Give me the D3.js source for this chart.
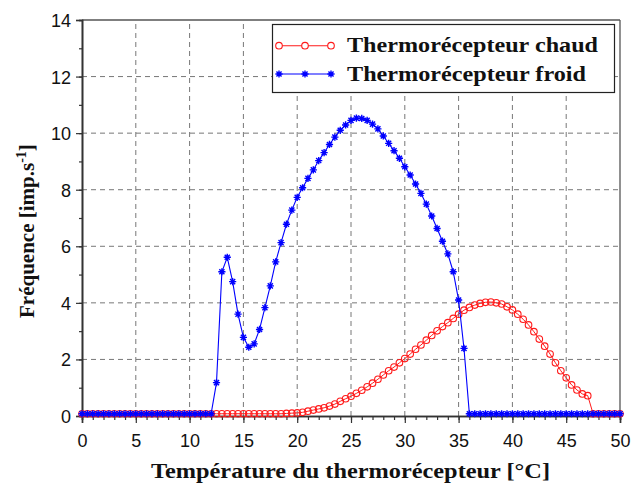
<!DOCTYPE html>
<html><head><meta charset="utf-8">
<script src="https://cdn.jsdelivr.net/npm/d3@7"></script>
<style>body{margin:0;background:#fff}svg{display:block}</style>
</head><body>
<svg id="c" width="632" height="487"></svg>
<script>
const temperatures = [0,0.5,1,1.5,2,2.5,3,3.5,4,4.5,5,5.5,6,6.5,7,7.5,8,8.5,9,9.5,10,10.5,11,11.5,12,12.5,13,13.5,14,14.5,15,15.5,16,16.5,17,17.5,18,18.5,19,19.5,20,20.5,21,21.5,22,22.5,23,23.5,24,24.5,25,25.5,26,26.5,27,27.5,28,28.5,29,29.5,30,30.5,31,31.5,32,32.5,33,33.5,34,34.5,35,35.5,36,36.5,37,37.5,38,38.5,39,39.5,40,40.5,41,41.5,42,42.5,43,43.5,44,44.5,45,45.5,46,46.5,47,47.5,48,48.5,49,49.5,50];
const chaud = [0.08,0.08,0.08,0.08,0.08,0.08,0.08,0.08,0.08,0.08,0.08,0.08,0.08,0.08,0.08,0.08,0.08,0.08,0.08,0.08,0.08,0.08,0.08,0.08,0.08,0.08,0.08,0.08,0.08,0.08,0.08,0.08,0.08,0.08,0.08,0.08,0.08,
 0.08,0.09,0.1,0.11,0.13,0.17,0.21,0.25,0.29,0.35,0.42,0.52,0.61,0.7,0.8,0.91,1.03,1.16,1.3,1.45,1.6,1.73,1.88,2.03,2.19,2.36,2.51,2.68,2.85,3.01,3.16,3.3,3.45,3.6,3.74,3.84,3.92,3.98,4.02,4.03,4.0,3.96,3.86,3.75,3.6,3.42,3.22,2.98,2.72,2.47,2.19,1.88,1.6,1.35,1.1,0.92,0.78,0.72,
 0.08,0.08,0.08,0.08,0.08,0.08];
const froid = [0.08,0.08,0.08,0.08,0.08,0.08,0.08,0.08,0.08,0.08,0.08,0.08,0.08,0.08,0.08,0.08,0.08,0.08,0.08,0.08,0.08,0.08,0.08,0.08,0.08,
 1.18,5.1,5.61,4.75,3.6,2.78,2.43,2.55,3.06,3.83,4.6,5.45,6.13,6.78,7.28,7.73,8.07,8.4,8.7,9.03,9.31,9.6,9.86,10.1,10.29,10.45,10.53,10.52,10.45,10.32,10.15,9.9,9.64,9.38,9.11,8.81,8.52,8.2,7.87,7.49,7.07,6.63,6.18,5.73,5.1,4.1,2.39,
 0.08,0.08,0.08,0.08,0.08,0.08,0.08,0.08,0.08,0.08,0.08,0.08,0.08,0.08,0.08,0.08,0.08,0.08,0.08,0.08,0.08,0.08,0.08,0.08,0.08,0.08,0.08,0.08,0.08];
const xTicks = [0,5,10,15,20,25,30,35,40,45,50];
const yTicks = [0,2,4,6,8,10,12,14];
const xMinor = [0,1,2,3,4,5,6,7,8,9,10,11,12,13,14,15,16,17,18,19,20,21,22,23,24,25,26,27,28,29,30,31,32,33,34,35,36,37,38,39,40,41,42,43,44,45,46,47,48,49,50];
const yMinor = [0,1,2,3,4,5,6,7,8,9,10,11,12,13,14];
const seriesNames = ["Thermorécepteur chaud","Thermorécepteur froid"];
const xTitle = "Température du thermorécepteur [°C]";

const L=82,R=620,T=20,B=416;
const svg=d3.select("#c");
const x=d3.scaleLinear().domain([0,50]).range([L,R]);
const y=d3.scaleLinear().domain([0,14]).range([B,T]);

// grid
const grid=svg.append("g").attr("stroke","#777").attr("stroke-width",1).attr("stroke-dasharray","5,4");
xTicks.filter(d=>d>0&&d<50).forEach(d=>grid.append("line").attr("x1",x(d)).attr("x2",x(d)).attr("y1",B).attr("y2",T));
yTicks.filter(d=>d>0&&d<14).forEach(d=>grid.append("line").attr("x1",L).attr("x2",R).attr("y1",y(d)).attr("y2",y(d)));

// frame top/right
svg.append("line").attr("x1",L).attr("x2",R).attr("y1",T).attr("y2",T).attr("stroke","#555").attr("stroke-width",1.3);
svg.append("line").attr("x1",R).attr("x2",R).attr("y1",T).attr("y2",B).attr("stroke","#555").attr("stroke-width",1.3);

// axes
const tickFont="'Liberation Sans', Arial, sans-serif";
const gx=svg.append("g").attr("transform",`translate(0,${B})`).call(d3.axisBottom(x).tickValues(xTicks).tickSize(7).tickFormat(d3.format("d")));
const gxm=svg.append("g").attr("transform",`translate(0,${B})`).call(d3.axisBottom(x).tickValues(xMinor).tickSize(4).tickFormat(""));
const gy=svg.append("g").attr("transform",`translate(${L},0)`).call(d3.axisLeft(y).tickValues(yTicks).tickSize(6).tickFormat(d3.format("d")));
const gym=svg.append("g").attr("transform",`translate(${L},0)`).call(d3.axisLeft(y).tickValues(yMinor).tickSize(3).tickFormat(""));
[gx,gxm,gy,gym].forEach(g=>{g.select(".domain").attr("stroke","#333").attr("stroke-width",1.6);g.selectAll(".tick line").attr("stroke","#333").attr("stroke-width",1.2);});
gx.selectAll("text").attr("font-family",tickFont).attr("font-size",18).attr("fill","#111").attr("dy",0).attr("y",31);
gy.selectAll("text").attr("font-family",tickFont).attr("font-size",18).attr("fill","#111").attr("dy","0.36em").attr("x",-11);

// series
const pts=(vals)=>temperatures.map((t,i)=>[t,vals[i]]);
const line=d3.line().x(d=>x(d[0])).y(d=>y(d[1]));
const red="#ff1a1a", blue="#0000ff";
svg.append("path").datum(pts(chaud)).attr("d",line).attr("fill","none").attr("stroke",red).attr("stroke-width",1);
svg.append("g").selectAll("circle").data(pts(chaud)).join("circle")
 .attr("cx",d=>x(d[0])).attr("cy",d=>y(d[1])).attr("r",3.3).attr("fill","none").attr("stroke",red).attr("stroke-width",1.1);
const starPath=(r)=>{const a=r*0.7071;return `M0,${-r}V${r}M${-r},0H${r}M${-a},${-a}L${a},${a}M${-a},${a}L${a},${-a}`;};
svg.append("path").datum(pts(froid)).attr("d",line).attr("fill","none").attr("stroke",blue).attr("stroke-width",1.1);
svg.append("g").selectAll("path").data(pts(froid)).join("path")
 .attr("transform",d=>`translate(${x(d[0])},${y(d[1])})`).attr("d",starPath(3.6)).attr("fill","none").attr("stroke",blue).attr("stroke-width",1.4);

// legend
const serif="'Liberation Serif','Times New Roman',serif";
const lg=svg.append("g");
lg.append("rect").attr("x",272.5).attr("y",24.5).attr("width",342).attr("height",68).attr("fill","#fff").attr("stroke","#222").attr("stroke-width",1.2);
const rows=[{name:seriesNames[0],yy:45.7,c:red,m:"o",w:251},{name:seriesNames[1],yy:74,c:blue,m:"*",w:239}];
rows.forEach(r=>{
  lg.append("line").attr("x1",279).attr("x2",331).attr("y1",r.yy).attr("y2",r.yy).attr("stroke",r.c).attr("stroke-width",1.1);
  [279,305,331].forEach(px=>{
    if(r.m==="o") lg.append("circle").attr("cx",px).attr("cy",r.yy).attr("r",3.3).attr("fill","#fff").attr("stroke",r.c).attr("stroke-width",1.1);
    else lg.append("path").attr("transform",`translate(${px},${r.yy})`).attr("d",starPath(3.6)).attr("stroke",r.c).attr("stroke-width",1.4);
  });
  lg.append("text").attr("x",347).attr("y",r.yy+6.5).attr("font-family",serif).attr("font-weight","bold").attr("font-size",21)
    .attr("fill","#111").attr("textLength",r.w).attr("lengthAdjust","spacingAndGlyphs").text(r.name);
});

// axis titles
svg.append("text").attr("x",151).attr("y",478).attr("font-family",serif).attr("font-weight","bold").attr("font-size",21)
  .attr("fill","#111").attr("textLength",399).attr("lengthAdjust","spacingAndGlyphs").text(xTitle);
const yt=svg.append("text").attr("transform","translate(34,318) rotate(-90)").attr("font-family",serif).attr("font-weight","bold").attr("font-size",21).attr("fill","#111");
yt.append("tspan").text("Fréquence [imp.s");
yt.append("tspan").attr("dy",-8).attr("font-size",14).text("-1");
yt.append("tspan").attr("dy",8).text("]");
</script>
</body></html>
